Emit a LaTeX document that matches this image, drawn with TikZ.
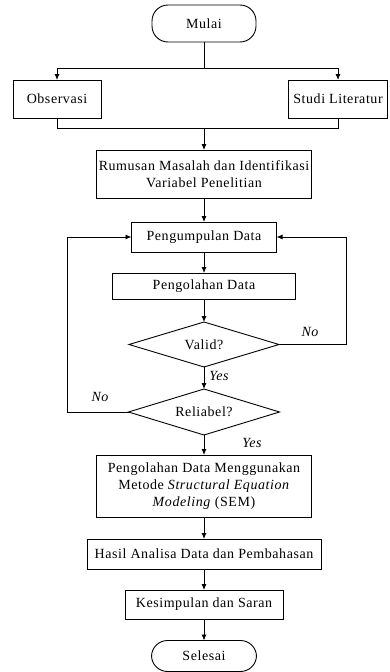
\documentclass[tikz,border=0pt]{standalone}
\usepackage{fontspec}
\setmainfont[LetterSpace=4]{Liberation Serif}
\usetikzlibrary{shapes.geometric,arrows.meta}
\begin{document}
\begin{tikzpicture}[x=1pt,y=-1pt,
  font=\fontsize{14}{17}\selectfont,
  every node/.style={inner sep=0pt, outer sep=0pt, align=center},
  box/.style={draw, line width=0.9pt, rectangle},
  term/.style={draw, line width=0.9pt, rounded corners=16pt},
  dec/.style={draw, line width=0.9pt, diamond, aspect=3.3},
  conn/.style={line width=0.9pt},
  arr/.style={conn, -{Latex[length=6pt,width=5pt]}},
  lab/.style={font=\fontsize{14}{17}\selectfont\itshape}]
\useasboundingbox (0,0) rectangle (389,672);
\node[term, minimum width=104pt, minimum height=37pt] (mulai) at (204,23.5) {Mulai};
\node[box, minimum width=88pt, minimum height=38pt] (obs) at (57,99) {Observasi};
\node[box, minimum width=99pt, minimum height=38pt] (studi) at (338,99) {Studi Literatur};
\node[box, minimum width=215pt, minimum height=48pt] (rumusan) at (204,174) {Rumusan Masalah dan Identifikasi\\Variabel Penelitian};
\node[box, minimum width=145pt, minimum height=30pt] (kumpul) at (204,237) {Pengumpulan Data};
\node[box, minimum width=183pt, minimum height=26pt] (olah) at (204,286) {Pengolahan Data};
\node[dec, minimum width=150pt, minimum height=45pt] (valid) at (204,344.5) {Valid?};
\node[dec, minimum width=151pt, minimum height=46pt] (reliabel) at (204,412) {Reliabel?};
\node[box, minimum width=215pt, minimum height=62pt] (sem) at (204,486) {Pengolahan Data Menggunakan\\Metode \textit{Structural Equation}\\\textit{Modeling} (SEM)};
\node[box, minimum width=234pt, minimum height=30pt] (hasil) at (204,554) {Hasil Analisa Data dan Pembahasan};
\node[box, minimum width=158pt, minimum height=29pt] (kesim) at (204,604.5) {Kesimpulan dan Saran};
\node[term, minimum width=105pt, minimum height=31pt] (selesai) at (204,656) {Selesai};

\coordinate (sp1) at (204,68);
\coordinate (jn1) at (204,128);
\coordinate (cR) at (346,344.5);
\coordinate (cL) at (67,412);

\draw[conn] (mulai) -- (sp1);
\draw[arr] (sp1) -| (obs);
\draw[arr] (sp1) -| (studi);
\draw[conn] (obs) |- (jn1);
\draw[conn] (studi) |- (jn1);
\draw[arr] (jn1) -- (rumusan);
\draw[arr] (rumusan) -- (kumpul);
\draw[arr] (kumpul) -- (olah);
\draw[arr] (olah) -- (valid);
\draw[arr] (valid) -- (reliabel);
\draw[arr] (reliabel) -- (sem);
\draw[arr] (sem) -- (hasil);
\draw[arr] (hasil) -- (kesim);
\draw[arr] (kesim) -- (selesai);
\draw[arr] (valid.east) -- (cR) |- (kumpul.east);
\draw[arr] (reliabel.west) -- (cL) |- (kumpul.west);

\node[lab] (no1) at (310,332) {No};
\node[lab] (yes1) at (219,376) {Yes};
\node[lab] (no2) at (100,397) {No};
\node[lab] (yes2) at (252,443) {Yes};
\end{tikzpicture}
\end{document}
